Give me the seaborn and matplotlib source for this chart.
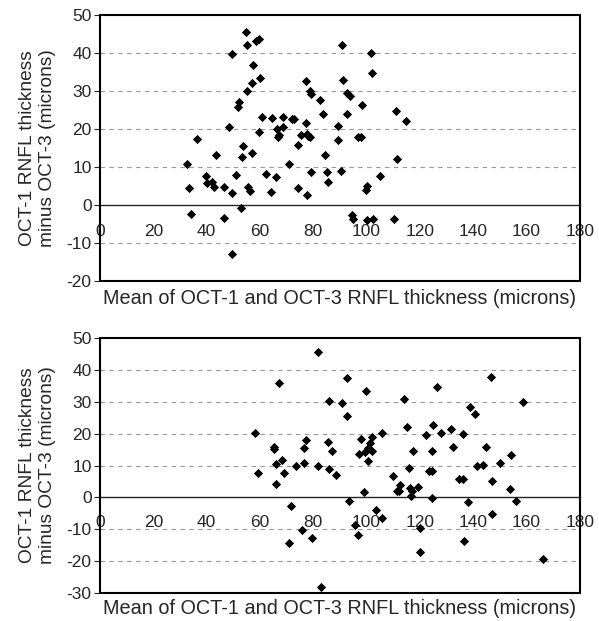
import numpy as np
import pandas as pd
import matplotlib
matplotlib.use("Agg")
import matplotlib.pyplot as plt
from matplotlib.patches import Rectangle
import seaborn as sns

# top panel: mean of OCT-1 and OCT-3 vs difference
top_mean = [32.5, 33.4, 34.0, 36.5, 39.7, 40.0, 42.1, 42.7, 43.5, 46.5,
            46.5, 48.2, 49.6, 49.6, 49.6, 51.0, 51.7, 52.2, 52.9, 53.4,
            53.7, 54.7, 55.2, 55.2, 55.6, 56.1, 57.0, 57.0, 57.5, 58.4,
            59.7, 59.7, 60.0, 60.7, 62.1, 64.0, 64.7, 66.2, 66.5, 66.9,
            67.3, 68.5, 68.5, 71.0, 71.9, 72.7, 74.4, 74.4, 75.4, 77.3,
            78.7, 79.0, 82.5, 83.7, 77.3, 77.5, 78.1, 78.7, 84.5, 79.1,
            85.0, 85.6, 77.7, 90.7, 101.6, 102.1, 91.2, 92.5, 93.7, 98.4,
            110.9, 114.6, 92.5, 89.4, 89.4, 96.6, 97.9, 111.3, 90.3, 105.2,
            100.2, 99.7, 94.4, 95.0, 100.2, 102.5, 110.4]
top_diff = [10.8, 4.4, -2.4, 17.4, 7.6, 5.8, 6.0, 4.8, 13.1, 4.7,
            -3.3, 20.5, 3.2, 39.7, -12.8, 8.0, 25.7, 27.0, -0.8, 12.7,
            15.5, 45.6, 42.0, 30.0, 4.8, 3.8, 13.8, 32.0, 36.8, 43.1,
            43.7, 19.3, 33.5, 23.2, 8.1, 3.5, 22.9, 7.4, 20.1, 17.8,
            18.4, 23.2, 20.5, 10.8, 22.7, 22.7, 4.5, 15.7, 18.4, 32.6,
            30.0, 29.2, 27.5, 24.0, 21.6, 18.8, 18.1, 17.9, 13.2, 8.6,
            8.6, 6.1, 2.7, 42.0, 40.1, 34.7, 33.0, 29.5, 28.6, 26.2,
            24.7, 22.2, 24.0, 20.9, 17.1, 17.8, 17.8, 12.1, 9.0, 7.6,
            4.9, 3.9, -2.7, -3.6, -4.0, -3.6, -3.8]

# bottom panel
bot_mean = [58.2, 59.1, 65.2, 65.2, 67.1, 66.2, 66.2, 68.2, 68.9, 71.7,
            70.8, 73.7, 81.6, 85.9, 77.2, 85.5, 76.6, 76.6, 81.6, 86.0,
            75.6, 79.7, 82.9, 92.6, 99.7, 90.7, 92.6, 114.2, 126.4, 146.5,
            158.5, 138.7, 140.6, 115.2, 125.0, 122.3, 127.9, 131.5, 136.2, 132.5,
            144.7, 154.2, 105.6, 101.9, 97.9, 86.9, 97.2, 99.4, 100.6, 101.2,
            102.1, 100.6, 117.5, 124.7, 88.5, 116.0, 123.5, 124.7, 141.5, 143.8,
            150.1, 134.5, 136.0, 146.9, 110.0, 112.5, 112.0, 111.4, 116.2, 117.0,
            116.5, 119.2, 98.9, 93.5, 124.6, 137.9, 153.7, 156.1, 103.5, 105.8,
            95.6, 96.9, 120.0, 120.0, 136.4, 146.9, 166.1]
bot_diff = [20.3, 7.6, 15.9, 15.1, 36.0, 10.4, 4.2, 11.8, 7.6, -2.7,
            -14.2, 10.0, 45.7, 30.3, 18.0, 17.3, 15.4, 10.7, 9.7, 8.8,
            -10.3, -12.8, -28.2, 37.6, 33.5, 29.6, 25.4, 30.8, 34.6, 37.9,
            29.9, 28.4, 26.3, 22.1, 22.6, 19.5, 20.2, 21.5, 19.9, 15.7,
            15.9, 13.3, 20.1, 18.8, 18.2, 14.7, 13.6, 14.2, 15.4, 17.0,
            14.4, 11.5, 14.7, 14.7, 7.1, 9.1, 8.4, 8.4, 9.7, 10.3,
            10.7, 5.8, 5.8, 5.1, 6.8, 3.8, 2.1, 2.0, 2.9, 1.9,
            0.5, 3.4, 1.6, -1.0, -0.2, -1.6, 2.7, -1.2, -4.1, -6.5,
            -8.7, -11.9, -9.5, -17.2, -13.8, -5.3, -19.2]

x_ticks = [0, 20, 40, 60, 80, 100, 120, 140, 160, 180]
top_yticks = [-20, -10, 0, 10, 20, 30, 40, 50]
bot_yticks = [-30, -20, -10, 0, 10, 20, 30, 40, 50]

ylab = "OCT-1 RNFL thickness\nminus OCT-3 (microns)"
xlab = "Mean of OCT-1 and OCT-3 RNFL thickness (microns)"

sns.set_style("white")
plt.rcParams['font.family'] = ['Liberation Sans', 'DejaVu Sans']

fig = plt.figure(figsize=(5.99, 6.21), dpi=100)
ax1 = fig.add_axes([0.167, 0.5475, 0.801, 0.4285])
ax2 = fig.add_axes([0.167, 0.0451, 0.801, 0.4106])


def panel(ax, xs, ys, yticks, xpad, xlab_y):
    df = pd.DataFrame({"mean": xs, "diff": ys})
    for yv in yticks[1:-1]:
        if yv != 0:
            ax.axhline(yv, color="0.6", lw=0.8, ls=(0, (4, 4)), zorder=0)
    sns.scatterplot(data=df, x="mean", y="diff", marker="D", color="black",
                    s=22, linewidth=0, ax=ax, zorder=3)
    ax.set_xlim(0, 180)
    ax.set_ylim(yticks[0], yticks[-1])
    ax.set_xticks(x_ticks)
    ax.set_yticks(yticks)
    ax.set_xticklabels([str(v) for v in x_ticks])
    ax.set_yticklabels([str(v) for v in yticks])
    ax.spines['bottom'].set_position(('data', 0))
    ax.spines['bottom'].set_linewidth(1.0)
    for s in ['top', 'right', 'left']:
        ax.spines[s].set_visible(False)
    ax.add_patch(Rectangle((0, 0), 1, 1, transform=ax.transAxes, fill=False,
                           lw=1.5, edgecolor="black", clip_on=False, zorder=5))
    ax.tick_params(axis='x', direction='out', length=4, width=0.8,
                   labelsize=12.5, pad=xpad)
    ax.tick_params(axis='y', direction='out', length=4, width=0.8,
                   labelsize=12.5, left=True, pad=2)
    ax.set_xlabel(xlab, fontsize=14.3)
    ax.set_ylabel(ylab, fontsize=13.8, linespacing=1.25)
    ax.xaxis.set_label_coords(0.5, xlab_y)
    ax.yaxis.set_label_coords(-0.092, 0.5)


panel(ax1, top_mean, top_diff, top_yticks, 10, -0.03)
panel(ax2, bot_mean, bot_diff, bot_yticks, 9, -0.025)

fig.savefig("out.png", dpi=100)
